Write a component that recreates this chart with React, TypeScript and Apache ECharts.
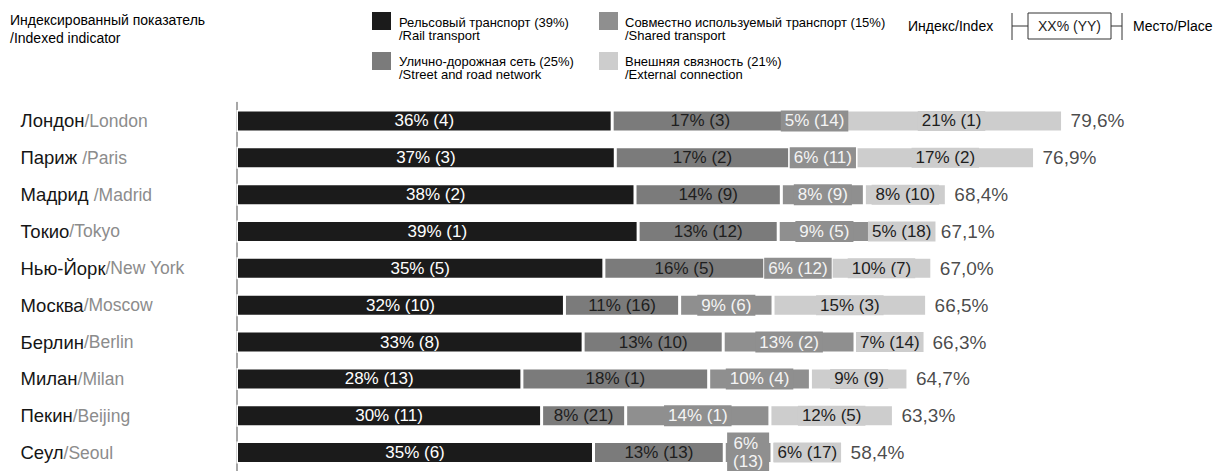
import React, { useEffect, useRef } from "react";
import * as echarts from "echarts";

const cities = ["Лондон", "Париж ", "Мадрид ", "Токио", "Нью-Йорк", "Москва", "Берлин", "Милан", "Пекин", "Сеул"];
const citiesEn = ["London", "Paris", "Madrid", "Tokyo", "New York", "Moscow", "Berlin", "Milan", "Beijing", "Seoul"];

// segment widths (index points)
const railVal = [36.2, 36.5, 38.4, 38.7, 35.4, 31.6, 33.4, 27.5, 29.4, 34.4];
const roadVal = [17.0, 16.8, 14.1, 13.5, 15.5, 11.1, 13.5, 18.0, 8.1, 12.6];
const sharedVal = [5.0, 6.4, 8.0, 8.9, 6.4, 9.0, 12.7, 9.8, 13.9, 4.6];
const extVal = [21.4, 17.2, 7.9, 6.0, 9.7, 14.8, 6.7, 9.4, 11.9, 6.8];

// labels: percent and place
const railPct = [36, 37, 38, 39, 35, 32, 33, 28, 30, 35];
const railRank = [4, 3, 2, 1, 5, 10, 8, 13, 11, 6];
const roadPct = [17, 17, 14, 13, 16, 11, 13, 18, 8, 13];
const roadRank = [3, 2, 9, 12, 5, 16, 10, 1, 21, 13];
const sharedPct = [5, 6, 8, 9, 6, 9, 13, 10, 14, 6];
const sharedRank = [14, 11, 9, 5, 12, 6, 2, 4, 1, 13];
const extPct = [21, 17, 8, 5, 10, 15, 7, 9, 12, 6];
const extRank = [1, 2, 10, 18, 7, 3, 14, 9, 5, 17];
const totals = [79.6, 76.9, 68.4, 67.1, 67.0, 66.5, 66.3, 64.7, 63.3, 58.4];

const C_RAIL = "#1b1b1b";
const C_ROAD = "#7b7b7b";
const C_SHARED = "#8f8f8f";
const C_EXT = "#cdcdcd";
const FONT = "Liberation Sans, Arial, sans-serif";

export default function App() {
  const ref = useRef<HTMLDivElement>(null);
  useEffect(() => {
    if (!ref.current) return;
    const chart = echarts.init(ref.current, null, { renderer: "svg" });
    const lbl = (pct: number[], rank: number[]) => (p: any) => `${pct[p.dataIndex]}% (${rank[p.dataIndex]})`;
    const baseLabel = { show: true, position: "inside", fontSize: 17, fontFamily: FONT };
    const border = { borderColor: "#ffffff", borderWidth: 1.5 };

    const sharedData = sharedVal.map((v, i) =>
      i === 9
        ? { value: v, label: { width: 34, overflow: "break", lineHeight: 18, padding: [2, 4] } }
        : v
    );

    const option: any = {
      animation: false,
      textStyle: { fontFamily: FONT },
      grid: { left: 236.5, right: 48.5, top: 102.5, height: 371, containLabel: false },
      xAxis: { type: "value", min: 0, max: 90, show: false },
      yAxis: {
        type: "category",
        inverse: true,
        data: cities,
        axisLine: { show: true, lineStyle: { color: "#8a8a8a", width: 1.5 } },
        axisTick: { show: false },
        axisLabel: {
          align: "left",
          margin: 216,
          formatter: (v: string, i: number) => `{a|${cities[i]}}{b|/${citiesEn[i]}}`,
          rich: {
            a: { fontSize: 18.5, color: "#151515", fontFamily: FONT },
            b: { fontSize: 17.5, color: "#8c8c8c", fontFamily: FONT },
          },
        },
      },
      series: [
        {
          type: "bar", stack: "s", barWidth: 22, data: railVal,
          itemStyle: { color: C_RAIL, ...border },
          label: { ...baseLabel, color: "#ffffff", formatter: lbl(railPct, railRank) },
        },
        {
          type: "bar", stack: "s", barWidth: 22, data: roadVal,
          itemStyle: { color: C_ROAD, ...border },
          label: { ...baseLabel, color: "#1e1e1e", formatter: lbl(roadPct, roadRank) },
        },
        {
          type: "bar", stack: "s", barWidth: 22, data: sharedData,
          itemStyle: { color: C_SHARED, ...border },
          label: {
            ...baseLabel, color: "#f4f4f4", formatter: lbl(sharedPct, sharedRank),
            backgroundColor: C_SHARED, padding: [0, 4], lineHeight: 21,
          },
        },
        {
          type: "bar", stack: "s", barWidth: 22, data: extVal,
          itemStyle: { color: C_EXT, ...border },
          label: {
            ...baseLabel, color: "#1e1e1e", formatter: lbl(extPct, extRank),
            backgroundColor: C_EXT, padding: [0, 4], lineHeight: 20,
          },
        },
        {
          type: "scatter", symbolSize: 0, silent: true,
          data: totals.map((t, i) => [t, i]),
          label: {
            show: true, position: "right", distance: 8, fontSize: 19, color: "#1a1a1a", fontFamily: FONT,
            formatter: (p: any) => `${totals[p.dataIndex].toFixed(1).replace(".", ",")}%`,
          },
        },
      ],
      graphic: [
        {
          type: "text", left: 10, top: 13,
          style: {
            text: "{a|Индексированный показатель}\n{b|/Indexed indicator}",
            rich: {
              a: { fontSize: 14, color: "#222", lineHeight: 18, fontFamily: FONT },
              b: { fontSize: 14, color: "#8c8c8c", lineHeight: 18, fontFamily: FONT },
            },
          },
        },
        { type: "rect", shape: { x: 372, y: 12, width: 19, height: 18 }, style: { fill: C_RAIL } },
        { type: "rect", shape: { x: 372, y: 52, width: 19, height: 18 }, style: { fill: C_ROAD } },
        { type: "rect", shape: { x: 599, y: 12, width: 19, height: 18 }, style: { fill: C_SHARED } },
        { type: "rect", shape: { x: 599, y: 52, width: 19, height: 18 }, style: { fill: C_EXT } },
        ...[
          [399, 15.5, "Рельсовый транспорт (39%)", "/Rail transport"],
          [399, 55, "Улично-дорожная сеть (25%)", "/Street and road network"],
          [625, 15.5, "Совместно используемый транспорт (15%)", "/Shared transport"],
          [625, 55, "Внешняя связность (21%)", "/External connection"],
        ].map(([x, y, ru, en]) => ({
          type: "text", x, y,
          style: {
            text: `{a|${ru}}\n{b|${en}}`,
            rich: {
              a: { fontSize: 13, color: "#2a2a2a", lineHeight: 13, fontFamily: FONT },
              b: { fontSize: 13, color: "#8c8c8c", lineHeight: 13, fontFamily: FONT },
            },
          },
        })),
        {
          type: "text", x: 908, y: 26,
          style: {
            text: "{a|Индекс}{b|/Index}", verticalAlign: "middle",
            rich: { a: { fontSize: 14, color: "#555", fontFamily: FONT }, b: { fontSize: 14, color: "#9a9a9a", fontFamily: FONT } },
          },
        },
        { type: "line", shape: { x1: 1012, y1: 13, x2: 1012, y2: 40 }, style: { stroke: "#333", lineWidth: 1 } },
        { type: "line", shape: { x1: 1012, y1: 26, x2: 1028, y2: 26 }, style: { stroke: "#333", lineWidth: 1 } },
        { type: "rect", shape: { x: 1028, y: 13, width: 83, height: 26 }, style: { fill: "#fff", stroke: "#333", lineWidth: 1 } },
        {
          type: "text", x: 1069.5, y: 26,
          style: { text: "XX% (YY)", fontSize: 14, fill: "#222", align: "center", verticalAlign: "middle", fontFamily: FONT },
        },
        { type: "line", shape: { x1: 1111, y1: 26, x2: 1122, y2: 26 }, style: { stroke: "#333", lineWidth: 1 } },
        { type: "line", shape: { x1: 1122, y1: 13, x2: 1122, y2: 40 }, style: { stroke: "#333", lineWidth: 1 } },
        {
          type: "text", x: 1133, y: 26,
          style: {
            text: "{a|Место}{b|/Place}", verticalAlign: "middle",
            rich: { a: { fontSize: 14, color: "#555", fontFamily: FONT }, b: { fontSize: 14, color: "#9a9a9a", fontFamily: FONT } },
          },
        },
      ],
    };
    chart.setOption(option);
    return () => chart.dispose();
  }, []);
  return (
    <div
      ref={ref}
      style={{ position: "absolute", left: 0, top: 0, width: 1219, height: 471, background: "#fff" }}
    />
  );
}
